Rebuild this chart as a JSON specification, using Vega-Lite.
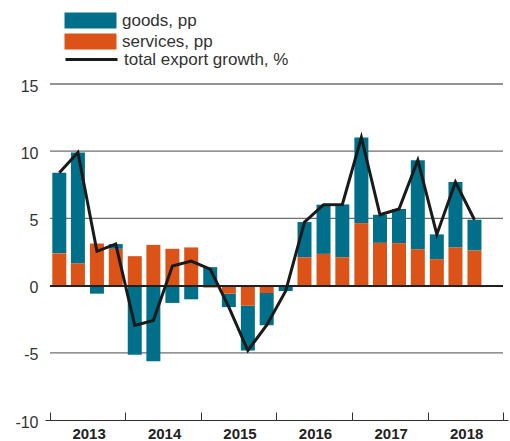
{
  "$schema": "https://vega.github.io/schema/vega-lite/v6.json",
  "width": 463,
  "height": 336,
  "autosize": {"type": "none"},
  "padding": {"left": 45, "top": 84, "right": 2, "bottom": 21},
  "config": {
    "view": {"stroke": null},
    "font": "Liberation Sans"
  },
  "datasets": {
    "levels": [
      {"level": -5, "kind": "grid"},
      {"level": 5, "kind": "grid"},
      {"level": 10, "kind": "grid"},
      {"level": 15, "kind": "grid"}
    ]
  },
  "data": {
    "values": [
      {"quarter": "2013-02-15", "services": 2.4, "goods": 6.0, "total": 8.4},
      {"quarter": "2013-05-16", "services": 1.65, "goods": 8.25, "total": 9.9},
      {"quarter": "2013-08-16", "services": 3.13, "goods": -0.6, "total": 2.55},
      {"quarter": "2013-11-15", "services": 2.74, "goods": 0.35, "total": 3.09},
      {"quarter": "2014-02-15", "services": 2.19, "goods": -5.15, "total": -2.96},
      {"quarter": "2014-05-16", "services": 3.03, "goods": -5.62, "total": -2.6},
      {"quarter": "2014-08-16", "services": 2.74, "goods": -1.29, "total": 1.45},
      {"quarter": "2014-11-15", "services": 2.84, "goods": -1.02, "total": 1.82},
      {"quarter": "2015-02-15", "services": -0.15, "goods": 1.37, "total": 1.22},
      {"quarter": "2015-05-16", "services": -0.6, "goods": -1.0, "total": -1.6},
      {"quarter": "2015-08-16", "services": -1.49, "goods": -3.34, "total": -4.83},
      {"quarter": "2015-11-15", "services": -0.55, "goods": -2.4, "total": -2.95},
      {"quarter": "2016-02-15", "services": -0.1, "goods": -0.3, "total": -0.4},
      {"quarter": "2016-05-16", "services": 2.11, "goods": 2.62, "total": 4.73},
      {"quarter": "2016-08-16", "services": 2.36, "goods": 3.66, "total": 6.02},
      {"quarter": "2016-11-15", "services": 2.11, "goods": 3.93, "total": 6.04},
      {"quarter": "2017-02-15", "services": 4.65, "goods": 6.37, "total": 11.02},
      {"quarter": "2017-05-16", "services": 3.18, "goods": 2.09, "total": 5.27},
      {"quarter": "2017-08-16", "services": 3.16, "goods": 2.54, "total": 5.7},
      {"quarter": "2017-11-15", "services": 2.71, "goods": 6.62, "total": 9.33},
      {"quarter": "2018-02-15", "services": 1.97, "goods": 1.84, "total": 3.81},
      {"quarter": "2018-05-16", "services": 2.84, "goods": 4.87, "total": 7.71},
      {"quarter": "2018-08-16", "services": 2.61, "goods": 2.29, "total": 4.9}
    ]
  },
  "layer": [
    {
      "data": {"name": "levels"},
      "mark": {"type": "rule", "color": "#6f6f6f", "strokeWidth": 1.3},
      "encoding": {
        "y": {"field": "level", "type": "quantitative"},
        "x": {"datum": {"year": 2013, "month": 1, "date": 1, "utc": true}, "type": "temporal"},
        "x2": {"datum": {"year": 2019, "month": 1, "date": 1, "utc": true}}
      }
    },
    {
      "transform": [
        {"fold": ["goods", "services"], "as": ["part", "value"]},
        {"calculate": "datum.part === 'goods' ? 'goods, pp' : 'services, pp'", "as": "component"}
      ],
      "mark": {"type": "bar", "width": 14},
      "encoding": {
        "x": {
          "field": "quarter",
          "type": "temporal",
          "scale": {
            "type": "utc",
            "domain": [
              {"year": 2013, "month": 1, "date": 1, "utc": true},
              {"year": 2019, "month": 1, "date": 1, "utc": true}
            ]
          },
          "axis": {
            "title": null,
            "values": [
              {"year": 2013, "month": 1, "date": 1, "utc": true},
              {"year": 2014, "month": 1, "date": 1, "utc": true},
              {"year": 2015, "month": 1, "date": 1, "utc": true},
              {"year": 2016, "month": 1, "date": 1, "utc": true},
              {"year": 2017, "month": 1, "date": 1, "utc": true},
              {"year": 2018, "month": 1, "date": 1, "utc": true},
              {"year": 2019, "month": 1, "date": 1, "utc": true}
            ],
            "labelExpr": "utcyear(datum.value) < 2019 ? utcFormat(datum.value, '%Y') : ''",
            "labelOffset": 38.6,
            "labelFlush": false,
            "labelOverlap": false,
            "labelFontSize": 15,
            "labelFontWeight": "bold",
            "labelColor": "#222",
            "labelBaseline": "top",
            "labelPadding": 14,
            "tickSize": -8,
            "tickColor": "#333",
            "tickWidth": 1,
            "domainColor": "#333",
            "domainWidth": 1.2,
            "grid": false
          }
        },
        "y": {
          "field": "value",
          "type": "quantitative",
          "stack": "zero",
          "scale": {"domain": [-10, 15], "nice": false, "zero": false},
          "axis": {
            "title": null,
            "values": [-10, -5, 0, 5, 10, 15],
            "labelExpr": "datum.value < 0 ? '-' + abs(datum.value) : '' + datum.value",
            "ticks": false,
            "domain": false,
            "grid": false,
            "labelFontSize": 16,
            "labelColor": "#333",
            "labelPadding": 7,
            "labelOffset": 2
          }
        },
        "fill": {
          "field": "component",
          "type": "nominal",
          "scale": {"domain": ["goods, pp", "services, pp"], "range": ["#00708A", "#DC5318"]},
          "legend": {
            "title": null,
            "orient": "none",
            "legendX": 37,
            "legendY": -72,
            "padding": 0,
            "symbolType": "M-3.25,-1H3.25V1H-3.25Z",
            "symbolSize": 256,
            "symbolStrokeWidth": 0,
            "symbolOpacity": 1,
            "rowPadding": 3,
            "labelOffset": 23,
            "labelLimit": 0,
            "labelFontSize": 17,
            "labelColor": "#333"
          }
        },
        "order": {"field": "component", "sort": "descending"}
      }
    },
    {
      "mark": {"type": "rule", "color": "#222", "strokeWidth": 1.2},
      "encoding": {
        "y": {"datum": 0},
        "x": {"datum": {"year": 2013, "month": 1, "date": 1, "utc": true}, "type": "temporal"},
        "x2": {"datum": {"year": 2019, "month": 1, "date": 1, "utc": true}}
      }
    },
    {
      "mark": {"type": "line", "strokeWidth": 3, "strokeJoin": "miter"},
      "encoding": {
        "x": {"field": "quarter", "type": "temporal"},
        "y": {"field": "total", "type": "quantitative"},
        "stroke": {
          "datum": "total export growth, %",
          "scale": {"range": ["#1a1a1a"]},
          "legend": {
            "title": null,
            "orient": "none",
            "legendX": 37,
            "legendY": -34,
            "padding": 0,
            "symbolType": "M-3.25,0H3.25",
            "symbolSize": 256,
            "symbolStrokeWidth": 3,
            "labelOffset": 23,
            "labelLimit": 0,
            "labelFontSize": 17,
            "labelColor": "#333"
          }
        }
      }
    }
  ]
}
